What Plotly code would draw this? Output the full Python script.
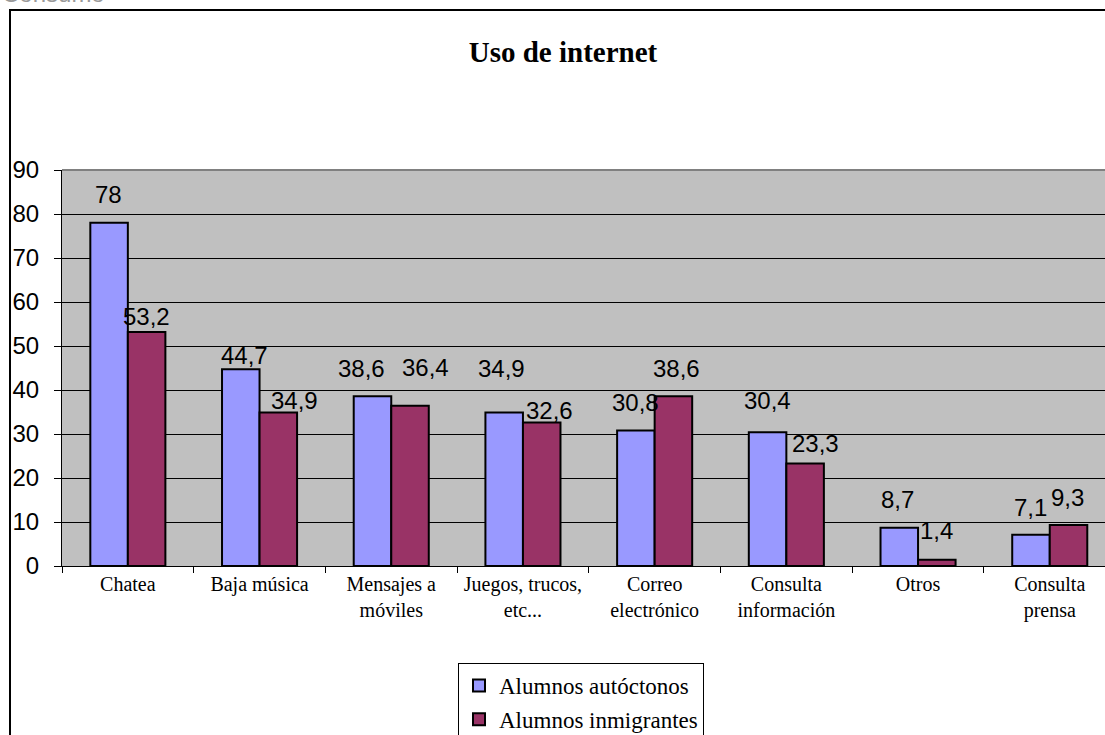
import plotly.graph_objects as go

# ---- data ----
categories = ["Chatea", "Baja música", "Mensajes a<br>móviles", "Juegos, trucos,<br>etc...",
              "Correo<br>electrónico", "Consulta<br>información", "Otros", "Consulta<br>prensa"]
autoctonos = [78, 44.7, 38.6, 34.9, 30.8, 30.4, 8.7, 7.1]
inmigrantes = [53.2, 34.9, 36.4, 32.6, 38.6, 23.3, 1.4, 9.3]
series_names = ["Alumnos autóctonos", "Alumnos inmigrantes"]
title_text = "Uso de internet"
corner_text = "Consumo"

# ---- label placement tweaks (pixels, style only) ----
lab_dy_a = [28, 14, 28, 44, 28, 32, 28, 27]
lab_dx_a = [-1, 4, -11, -3, 0, 0, -2, 0]
lab_dy_b = [15, 12, 38, 12, 28, 20, 29, 28]
lab_dx_b = [0, 16, 15, 8, 3, 10, 0, -1]

W, H = 1105, 735
L, R, T, B = 62, 0, 170, 169
pw = W - L - R
ph = H - T - B
cat_px = 131.7
bargap = 0.43
half = (1 - bargap) / 4.0  # offset of each bar centre from category centre

def fmt(v):
    return f"{v:g}".replace(".", ",")

fig = go.Figure()
colors = ["#9999FF", "#993366"]
for name, vals, col in zip(series_names, [autoctonos, inmigrantes], colors):
    fig.add_trace(go.Bar(
        x=categories, y=vals, name=name, legendgroup=name,
        marker=dict(color=col, line=dict(color="black", width=2)),
    ))

annotations = []
for i, (va, vb) in enumerate(zip(autoctonos, inmigrantes)):
    annotations.append(dict(x=i - half, y=va, xref="x", yref="y", text=fmt(va), showarrow=False,
                            xanchor="center", yanchor="middle", xshift=lab_dx_a[i], yshift=lab_dy_a[i],
                            font=dict(family="Liberation Sans", size=24, color="black")))
    annotations.append(dict(x=i + half, y=vb, xref="x", yref="y", text=fmt(vb), showarrow=False,
                            xanchor="center", yanchor="middle", xshift=lab_dx_b[i], yshift=lab_dy_b[i],
                            font=dict(family="Liberation Sans", size=24, color="black")))

annotations.append(dict(x=(0 - L) / pw, y=(ph + T - 9) / ph, xref="paper", yref="paper",
                        text=corner_text, showarrow=False, xanchor="left", yanchor="bottom",
                        font=dict(family="Liberation Sans", size=24, color="#9a9a9a")))

shapes = [
    # outer chart border
    dict(type="rect", xref="paper", yref="paper",
         x0=(10 - L) / pw, x1=1.2, y0=-0.6, y1=(ph + T - 10) / ph,
         line=dict(color="black", width=2), fillcolor="rgba(0,0,0,0)", layer="below"),
    # top border of plot area
    dict(type="line", xref="paper", yref="paper", x0=0, x1=1, y0=1, y1=1,
         line=dict(color="#808080", width=2)),
]

fig.update_layout(
    width=W, height=H,
    margin=dict(l=L, r=R, t=T, b=B, pad=0, autoexpand=False),
    paper_bgcolor="white", plot_bgcolor="#C0C0C0",
    barmode="group", bargap=bargap, bargroupgap=0,
    title=dict(text=title_text, x=563 / W, xref="container", xanchor="center",
               y=1 - 52 / H, yref="container", yanchor="middle",
               font=dict(family="Liberation Serif", size=29, color="black", weight="bold")),
    xaxis=dict(range=[-0.5, -0.5 + pw / cat_px], ticks="outside", tickson="boundaries",
               ticklen=6, tickcolor="black", tickwidth=1, showline=True, linecolor="black",
               linewidth=1, showgrid=False, automargin=False,
               tickfont=dict(family="Liberation Serif", size=20, color="black")),
    yaxis=dict(range=[0, 90], dtick=10, ticks="outside", ticklen=7, tickcolor="black",
               tickwidth=1, showline=True, linecolor="black", linewidth=1,
               showgrid=True, gridcolor="black", gridwidth=1, zeroline=False,
               ticklabelstandoff=10, automargin=False,
               tickfont=dict(family="Liberation Sans", size=24, color="black")),
    legend=dict(x=(458 - L) / pw, y=(566 - 663) / ph, xanchor="left", yanchor="top",
                bordercolor="black", borderwidth=1, bgcolor="white",
                traceorder="grouped", tracegroupgap=1,
                font=dict(family="Liberation Serif", size=23, color="black")),
    annotations=annotations,
    shapes=shapes,
)

fig.write_html("out.html", config={"displayModeBar": False},
               post_script="document.body.style.margin='0';document.body.style.overflow='hidden';")
